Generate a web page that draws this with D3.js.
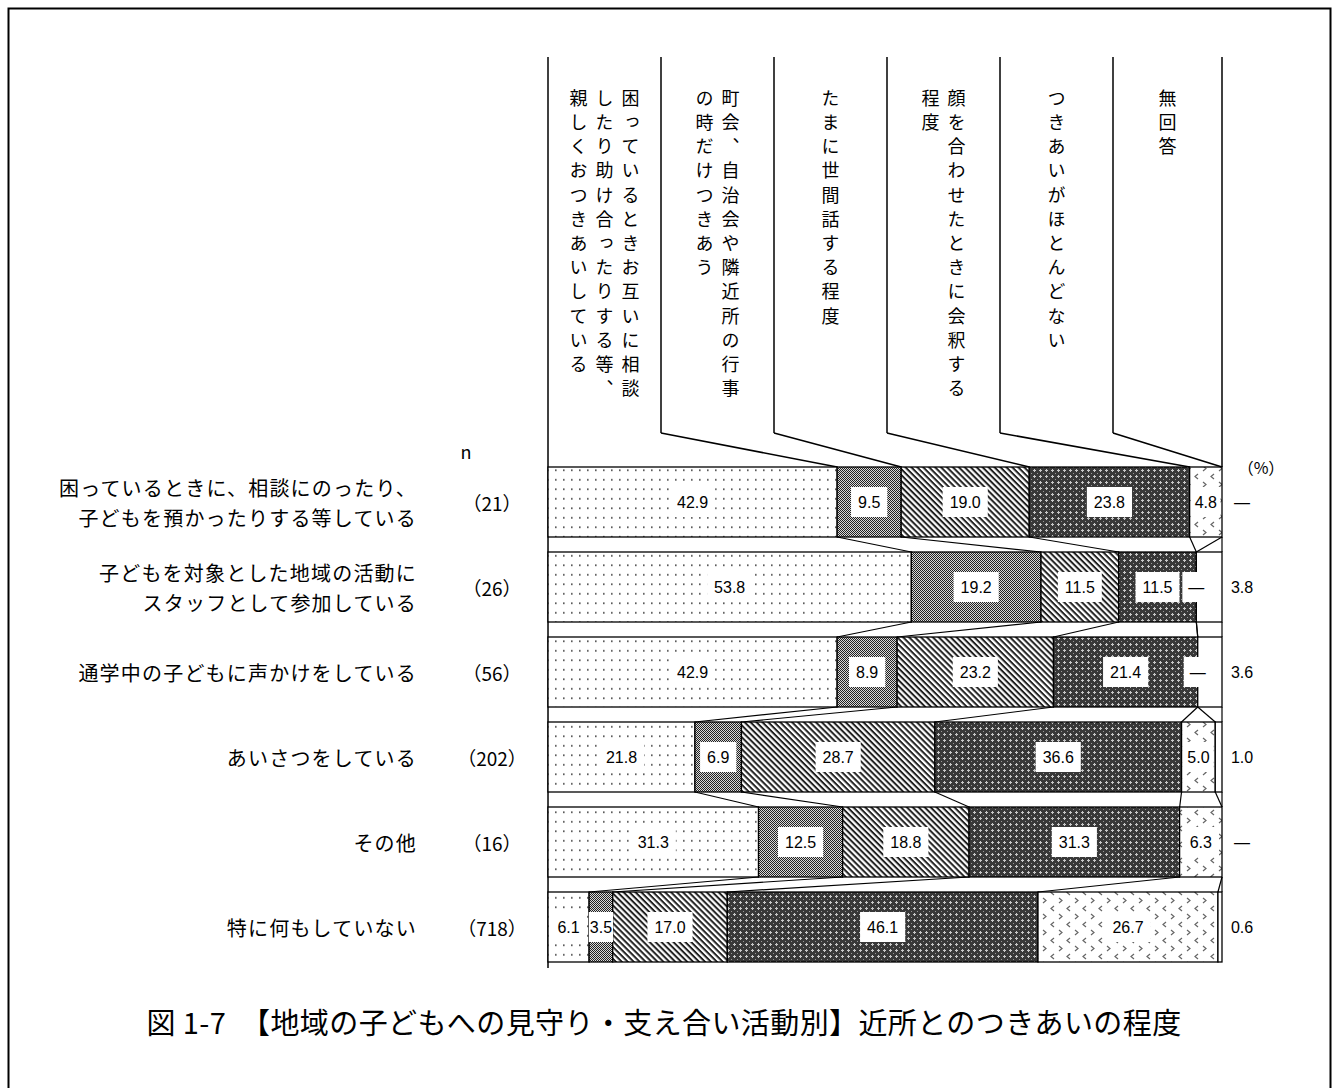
<!DOCTYPE html>
<html lang="ja">
<head>
<meta charset="utf-8">
<script src="https://cdn.jsdelivr.net/npm/d3@7"></script>
<style>
  body { margin: 0; background: #fff; }
  svg { display: block; }
</style>
</head>
<body>
<svg id="chart" width="1334" height="1088"></svg>
<script>
// Activity categories (row labels), one line break per "\n"
const categories = [
  "困っているときに、相談にのったり、\n子どもを預かったりする等している",
  "子どもを対象とした地域の活動に\nスタッフとして参加している",
  "通学中の子どもに声かけをしている",
  "あいさつをしている",
  "その他",
  "特に何もしていない"
];
// Respondent counts per row
const nCounts = [21, 26, 56, 202, 16, 718];

// Response options (column headers), line breaks for vertical text columns
const seriesNames = [
  "困っているときお互いに相談\nしたり助け合ったりする等、\n親しくおつきあいしている",
  "町会、自治会や隣近所の行事\nの時だけつきあう",
  "たまに世間話する程度",
  "顔を合わせたときに会釈する\n程度",
  "つきあいがほとんどない",
  "無回答"
];

// Percentages per response option, in category order
const closeTies   = [42.9, 53.8, 42.9, 21.8, 31.3,  6.1];
const eventsOnly  = [ 9.5, 19.2,  8.9,  6.9, 12.5,  3.5];
const smallTalk   = [19.0, 11.5, 23.2, 28.7, 18.8, 17.0];
const nodOnly     = [23.8, 11.5, 21.4, 36.6, 31.3, 46.1];
const hardlyAny   = [ 4.8,  0.0,  0.0,  5.0,  6.3, 26.7];
const noAnswer    = [ 0.0,  3.8,  3.6,  1.0,  0.0,  0.6];
const seriesValues = [closeTies, eventsOnly, smallTalk, nodOnly, hardlyAny, noAnswer];

const unitLabel = "（%）";
const nLabel = "n";
const title = "図 1-7　【地域の子どもへの見守り・支え合い活動別】近所とのつきあいの程度";

// ---------------------------------------------------------------------------
const svg = d3.select("#chart");
const keys = seriesNames.map((_, i) => "s" + i);
const rows = categories.map((c, r) => {
  const o = { cat: c, n: nCounts[r] };
  keys.forEach((k, j) => { o[k] = seriesValues[j][r]; });
  return o;
});
const stacked = d3.stack().keys(keys).offset(d3.stackOffsetExpand)(rows);

const x = d3.scaleLinear().domain([0, 1]).range([548, 1222]);
const y = d3.scaleBand().domain(categories).range([467, 962])
  .paddingInner(15 / 85).paddingOuter(0);
const bw = y.bandwidth();

// outer frame
svg.append("rect").attr("x", 8.5).attr("y", 8.5).attr("width", 1322).attr("height", 1110)
  .attr("fill", "none").attr("stroke", "#000").attr("stroke-width", 2);

// ---- fill patterns --------------------------------------------------------
const defs = svg.append("defs");
function pattern(id, w, h, transform) {
  const p = defs.append("pattern").attr("id", id)
    .attr("patternUnits", "userSpaceOnUse").attr("width", w).attr("height", h);
  if (transform) p.attr("patternTransform", transform);
  return p;
}
// dotted
{
  const p = pattern("pat-dots", 8, 9.5);
  p.append("rect").attr("width", 8).attr("height", 9.5).attr("fill", "#fff");
  p.append("rect").attr("x", 3).attr("y", 4).attr("width", 1.6).attr("height", 1.6).attr("fill", "#444");
}
// fine checker
{
  const p = pattern("pat-check", 2, 2);
  p.append("rect").attr("width", 2).attr("height", 2).attr("fill", "#d8d8d8");
  p.append("rect").attr("x", 0).attr("y", 0).attr("width", 1).attr("height", 1).attr("fill", "#222");
  p.append("rect").attr("x", 1).attr("y", 1).attr("width", 1).attr("height", 1).attr("fill", "#222");
}
// diagonal stripes
{
  const p = pattern("pat-diag", 4.2, 4.2, "rotate(45)");
  p.append("rect").attr("width", 4.2).attr("height", 4.2).attr("fill", "#fff");
  p.append("rect").attr("y", 0).attr("width", 4.2).attr("height", 2).attr("fill", "#222");
}
// dark lattice with light crosses
{
  const p = pattern("pat-cross", 6, 6);
  p.append("rect").attr("width", 6).attr("height", 6).attr("fill", "#383838");
  p.append("rect").attr("x", 1).attr("y", 2).attr("width", 3).attr("height", 1).attr("fill", "#c8c8c8");
  p.append("rect").attr("x", 2).attr("y", 1).attr("width", 1).attr("height", 3).attr("fill", "#c8c8c8");
  p.append("rect").attr("x", 5).attr("y", 5).attr("width", 1).attr("height", 1).attr("fill", "#999");
}
// chevrons
{
  const p = pattern("pat-chev", 16, 16);
  p.append("rect").attr("width", 16).attr("height", 16).attr("fill", "#fff");
  p.append("path").attr("d", "M3,2 L6,4.5 L3,7").attr("fill", "none").attr("stroke", "#666").attr("stroke-width", 1.2);
  p.append("path").attr("d", "M14,10 L11,12.5 L14,15").attr("fill", "none").attr("stroke", "#666").attr("stroke-width", 1.2);
}
const fills = ["url(#pat-dots)", "url(#pat-check)", "url(#pat-diag)", "url(#pat-cross)", "url(#pat-chev)", "#fff"];

// ---- header ---------------------------------------------------------------
const headTop = 57, headBottom = 433, headStep = 113;
const hx = i => (i < seriesNames.length ? x(0) + i * headStep : x(1));
const gHead = svg.append("g").attr("stroke", "#000").attr("stroke-width", 1.5).attr("fill", "none");
// left axis line, full height
gHead.append("line").attr("x1", x(0)).attr("x2", x(0)).attr("y1", headTop).attr("y2", y.range()[1] + 6);
for (let i = 1; i <= seriesNames.length; i++) {
  gHead.append("line").attr("x1", hx(i)).attr("x2", hx(i)).attr("y1", headTop).attr("y2", headBottom);
  // leader from header cell boundary to the matching boundary of the first bar
  const bx = x(stacked[i - 1][0][1]);
  gHead.append("line").attr("x1", hx(i)).attr("y1", headBottom).attr("x2", bx).attr("y2", y(categories[0]));
}
const gHeadText = svg.append("g")
  .attr("font-family", "'Noto Sans CJK JP', 'Noto Sans', sans-serif")
  .attr("font-size", 18).attr("fill", "#000");
seriesNames.forEach((name, i) => {
  const lines = name.split("\n");
  const cx = (hx(i) + hx(i + 1)) / 2;
  lines.forEach((ln, j) => {
    gHeadText.append("text")
      .attr("x", cx + ((lines.length - 1) / 2 - j) * 26)
      .attr("y", 89)
      .style("writing-mode", "vertical-rl")
      .style("letter-spacing", "6.2px")
      .text(ln);
  });
});

// ---- bars -----------------------------------------------------------------
const gBars = svg.append("g");
stacked.forEach((layer, j) => {
  gBars.append("g").attr("fill", fills[j]).attr("stroke", "#000").attr("stroke-width", 1.3)
    .selectAll("rect").data(layer).join("rect")
    .attr("x", d => x(d[0]))
    .attr("y", d => y(d.data.cat))
    .attr("width", d => Math.max(0, x(d[1]) - x(d[0])))
    .attr("height", bw);
});

// connector lines between consecutive bars
const gConn = svg.append("g").attr("stroke", "#000").attr("stroke-width", 1.2);
for (let r = 0; r < categories.length - 1; r++) {
  stacked.forEach(layer => {
    gConn.append("line")
      .attr("x1", x(layer[r][1])).attr("y1", y(categories[r]) + bw)
      .attr("x2", x(layer[r + 1][1])).attr("y2", y(categories[r + 1]));
  });
}

// ---- value labels inside bars ----------------------------------------------
const fmt = v => (v === 0 ? "—" : d3.format(".1f")(v));
const gVal = svg.append("g").attr("font-family", "'Liberation Sans', Arial, sans-serif")
  .attr("font-size", 16).attr("fill", "#000");
stacked.slice(0, stacked.length - 1).forEach((layer, j) => {
  layer.forEach((d, r) => {
    const v = seriesValues[j][r];
    const cx = (x(d[0]) + x(d[1])) / 2;
    const cy = y(d.data.cat) + bw / 2;
    const segW = x(d[1]) - x(d[0]);
    const box = gVal.append("rect").attr("fill", "#fff");
    const t = gVal.append("text").attr("x", cx).attr("y", cy).attr("text-anchor", "middle")
      .attr("dominant-baseline", "central").text(fmt(v));
    const tw = t.node().getComputedTextLength();
    const w = v === 0 ? tw + 12 : Math.max(tw + 2, Math.min(tw + 14, segW - 3));
    box.attr("x", cx - w / 2).attr("y", cy - 15).attr("width", w).attr("height", 30);
  });
});
// no-answer values, outside the bar end
const last = stacked[stacked.length - 1];
last.forEach((d, r) => {
  gVal.append("text").attr("x", 1242).attr("y", y(d.data.cat) + bw / 2)
    .attr("text-anchor", "middle").attr("dominant-baseline", "central")
    .text(fmt(noAnswer[r]));
});
gVal.append("text").attr("x", 1261).attr("y", 467).attr("text-anchor", "middle")
  .attr("dominant-baseline", "central")
  .attr("font-family", "'Noto Sans CJK JP', sans-serif").attr("font-size", 16)
  .text(unitLabel);

// ---- category labels and n --------------------------------------------------
const gCat = svg.append("g").attr("font-family", "'Noto Sans CJK JP', 'Noto Sans', sans-serif")
  .attr("fill", "#000");
categories.forEach((c, r) => {
  const lines = c.split("\n");
  const cy = y(c) + bw / 2;
  lines.forEach((ln, j) => {
    gCat.append("text").attr("x", 417)
      .attr("y", cy + (j - (lines.length - 1) / 2) * 30)
      .attr("text-anchor", "end").attr("dominant-baseline", "central")
      .attr("font-size", 20).style("letter-spacing", "1.2px")
      .text(ln);
  });
  gCat.append("text").attr("x", 492).attr("y", cy)
    .attr("text-anchor", "middle").attr("dominant-baseline", "central")
    .attr("font-size", 19).text("（" + nCounts[r] + "）");
});
gCat.append("text").attr("x", 466).attr("y", 451).attr("text-anchor", "middle")
  .attr("dominant-baseline", "central").attr("font-size", 18).text(nLabel);

// ---- title -------------------------------------------------------------------
svg.append("text").attr("x", 664).attr("y", 1034).attr("text-anchor", "middle")
  .attr("font-family", "'Noto Sans CJK JP', 'Noto Sans', sans-serif")
  .attr("font-size", 29).style("letter-spacing", "0.4px").attr("fill", "#000").text(title);
</script>
</body>
</html>
